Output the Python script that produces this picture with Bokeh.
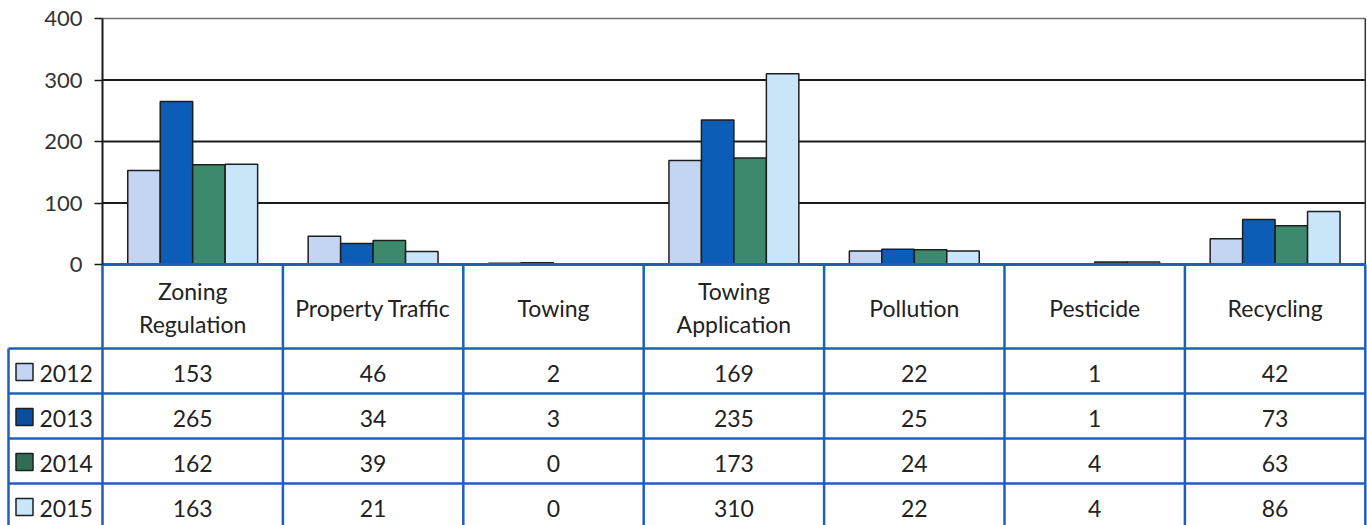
from bokeh.plotting import figure
from bokeh.models import Range1d, LinearAxis, FixedTicker, ColumnDataSource
from bokeh.core.properties import value
from bokeh.embed import file_html
from bokeh.resources import INLINE

# ---------------- data ----------------
categories = ["Zoning Regulation", "Property Traffic", "Towing", "Towing Application",
              "Pollution", "Pesticide", "Recycling"]
header_labels = ["Zoning\nRegulation", "Property Traffic", "Towing", "Towing\nApplication",
                 "Pollution", "Pesticide", "Recycling"]
years = ["2012", "2013", "2014", "2015"]
v2012 = [153, 46, 2, 169, 22, 1, 42]
v2013 = [265, 34, 3, 235, 25, 1, 73]
v2014 = [162, 39, 0, 173, 24, 4, 63]
v2015 = [163, 21, 0, 310, 22, 4, 86]
y_ticks = [0, 100, 200, 300, 400]

series = [v2012, v2013, v2014, v2015]
colors = ["#c4d4f3", "#0b5db6", "#3c8a6b", "#c9e6f9"]
swatch_colors = ["#c4d4f3", "#0a4f9e", "#2f6e55", "#c9e6f9"]

# ---------------- layout constants (picture pixels) ----------------
FIG_LEFT, FIG_TOP, FIG_RIGHT, FIG_BOTTOM = 0, 0, 1367, 525
X0_PX = 102.0          # x of category 0 left edge (value axis)
COL_W = 180.4          # px per category
Y0_PX = 264.0          # y of value 0
PX_PER_UNIT = 246.0 / 400.0
HEADER_BOTTOM = 348.0
ROW_H = 45.0
LEG_LEFT_PX = 8.0

BAR_W = 0.18
FONT = "Lato"
TXT = "#222222"
BLUE = "#1d5fbf"
FS = "23px"

x_range = Range1d((FIG_LEFT - X0_PX) / COL_W, (FIG_RIGHT - X0_PX) / COL_W)
y_range = Range1d(-(FIG_BOTTOM - Y0_PX) / PX_PER_UNIT, (Y0_PX - FIG_TOP) / PX_PER_UNIT)

p = figure(width=FIG_RIGHT - FIG_LEFT, height=FIG_BOTTOM - FIG_TOP,
           x_range=x_range, y_range=y_range,
           x_axis_type=None, y_axis_type=None,
           output_backend="svg", toolbar_location=None,
           min_border=0, min_border_left=0, min_border_right=0,
           min_border_top=0, min_border_bottom=0)
p.outline_line_color = None
p.background_fill_color = "white"
p.border_fill_color = "white"

# table coordinate system: picture pixels (flipped)
p.extra_y_ranges = {"tbl": Range1d(start=FIG_BOTTOM, end=FIG_TOP)}

n = len(categories)
leg_left = (LEG_LEFT_PX - X0_PX) / COL_W

# ---------------- gridlines ----------------
grid_vals = [t for t in y_ticks if t > 0]
p.segment(x0=[0] * len(grid_vals), x1=[n] * len(grid_vals), y0=grid_vals, y1=grid_vals,
          line_color=["#1a1a1a" if t < max(y_ticks) else "#707070" for t in grid_vals],
          line_width=[2 if t < max(y_ticks) else 1.5 for t in grid_vals])
# right border of plot area
p.segment(x0=[n], x1=[n], y0=[0], y1=[max(y_ticks)], line_color="#333333", line_width=1.5)

# ---------------- bars ----------------
for j, (vals, col) in enumerate(zip(series, colors)):
    xs = [i + 0.5 + (j - 1.5) * BAR_W for i in range(n)]
    src = ColumnDataSource(dict(x=xs, top=vals))
    p.vbar(x="x", top="top", bottom=0, width=BAR_W, source=src,
           fill_color=col, line_color="#1e1e1e", line_width=1.5)

# ---------------- table grid ----------------
row_tops = [HEADER_BOTTOM + ROW_H * k for k in range(len(years))]
p.segment(x0=[leg_left] * len(row_tops), x1=[n] * len(row_tops),
          y0=row_tops, y1=row_tops, y_range_name="tbl",
          line_color=BLUE, line_width=2.5)
p.segment(x0=list(range(n + 1)), x1=list(range(n + 1)),
          y0=[Y0_PX] * (n + 1), y1=[FIG_BOTTOM] * (n + 1), y_range_name="tbl",
          line_color=BLUE, line_width=2.5)
p.segment(x0=[leg_left], x1=[leg_left], y0=[HEADER_BOTTOM], y1=[FIG_BOTTOM],
          y_range_name="tbl", line_color=BLUE, line_width=2.5)
p.segment(x0=[0], x1=[n], y0=[0], y1=[0], line_color=BLUE, line_width=3)

# ---------------- header texts ----------------
p.text(x=[i + 0.5 for i in range(n)], y=[(Y0_PX + HEADER_BOTTOM) / 2 + 1] * n,
       text=header_labels, y_range_name="tbl",
       text_font=value(FONT), text_font_size=FS, text_color=TXT,
       text_align="center", text_baseline="middle", text_line_height=1.2)

# ---------------- cell values ----------------
for k, vals in enumerate(series):
    yc = row_tops[k] + ROW_H / 2 + 2
    p.text(x=[i + 0.5 for i in range(n)], y=[yc] * n,
           text=[str(v) for v in vals], y_range_name="tbl",
           text_font=value(FONT), text_font_size=FS, text_color=TXT,
           text_align="center", text_baseline="middle")

# ---------------- legend column ----------------
ycs = [t + ROW_H / 2 + 1 for t in row_tops]
p.scatter(x=[(24 - X0_PX) / COL_W] * len(years), y=ycs, y_range_name="tbl",
          marker="square", size=17, fill_color=swatch_colors,
          line_color="#1e1e1e", line_width=1.5)
p.text(x=[(39 - X0_PX) / COL_W] * len(years), y=[y + 1 for y in ycs], text=years,
       y_range_name="tbl",
       text_font=value(FONT), text_font_size=FS, text_color=TXT,
       text_align="left", text_baseline="middle")

# ---------------- value axis ----------------
yaxis = LinearAxis(ticker=FixedTicker(ticks=y_ticks), fixed_location=0,
                   bounds=(min(y_ticks), max(y_ticks)))
yaxis.axis_line_color = "#1a1a1a"
yaxis.axis_line_width = 2
yaxis.major_tick_line_color = "#1a1a1a"
yaxis.major_tick_line_width = 1.5
yaxis.major_tick_out = 8
yaxis.major_tick_in = 0
yaxis.minor_tick_line_color = None
yaxis.major_label_standoff = 12
yaxis.major_label_text_font = FONT
yaxis.major_label_text_font_size = "22px"
yaxis.major_label_text_color = "#333333"
p.add_layout(yaxis, "left")

open("out.html", "w").write(file_html(p, INLINE))
